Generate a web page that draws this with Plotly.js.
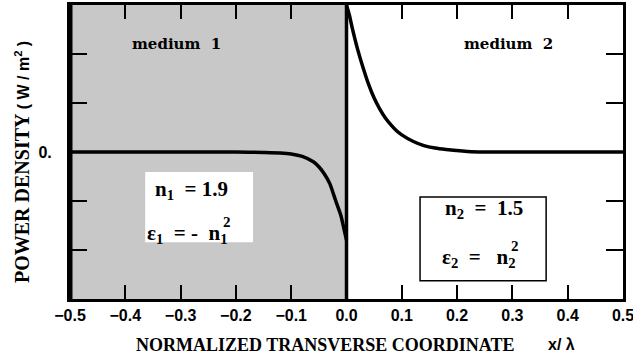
<!DOCTYPE html>
<html>
<head>
<meta charset="utf-8">
<script src="https://cdn.plot.ly/plotly-3.0.1.min.js"></script>
<style>html,body{margin:0;padding:0;background:#fff;}#chart{width:633px;height:360px;}</style>
</head>
<body>
<div id="chart"></div>
<script>
// Medium 1 (x < 0): power density
const x1 = [-0.5, -0.4, -0.3, -0.2, -0.15, -0.12, -0.1, -0.08, -0.06, -0.05, -0.04, -0.03, -0.02, -0.01, -0.005, 0];
const y1 = [0, 0, 0, 0, -0.01, -0.02, -0.04, -0.09, -0.2, -0.3, -0.45, -0.65, -0.98, -1.3, -1.55, -1.8];
// Medium 2 (x > 0)
const x2 = [0, 0.005, 0.01, 0.02, 0.03, 0.04, 0.05, 0.06, 0.07, 0.08, 0.09, 0.1, 0.12, 0.14, 0.16, 0.18, 0.2, 0.22, 0.25, 0.3, 0.4, 0.5];
const y2 = [3.0, 2.8, 2.55, 2.1, 1.72, 1.38, 1.1, 0.88, 0.7, 0.56, 0.44, 0.35, 0.22, 0.13, 0.08, 0.05, 0.03, 0.01, 0, 0, 0, 0];
// Tick labels
const xTicks = [-0.5, -0.4, -0.3, -0.2, -0.1, 0, 0.1, 0.2, 0.3, 0.4, 0.5];
const xTickText = ['\u22120.5', '\u22120.4', '\u22120.3', '\u22120.2', '\u22120.1', '0.0', '0.1', '0.2', '0.3', '0.4', '0.5'];
const yTicks = [-3, -2, -1, 0, 1, 2, 3];
const yTickText = ['', '', '', '0.', '', '', ''];

const serif = 'Liberation Serif, Times New Roman, serif';
const sans = 'Liberation Sans, Arial, sans-serif';
const slab = 'DejaVu Serif, serif';
const NB = '\u00a0';

const lineStyle = {color: '#000', width: 3.5, shape: 'spline', smoothing: 0.6};
const traces = [
  {x: x1, y: y1, mode: 'lines', line: lineStyle, hoverinfo: 'skip', showlegend: false},
  {x: x2, y: y2, mode: 'lines', line: lineStyle, hoverinfo: 'skip', showlegend: false}
];

const axisCommon = {
  showline: true, linecolor: '#000', linewidth: 3, mirror: 'ticks',
  ticks: 'inside', tickcolor: '#000', tickwidth: 2,
  showgrid: false, zeroline: false, fixedrange: true
};

const boxFont = {family: serif, size: 21, color: '#000', weight: 'bold'};
const supFont = {family: serif, size: 15, color: '#000', weight: 'bold'};

const layout = {
  width: 633, height: 360,
  margin: {l: 70, r: 10, t: 5, b: 61},
  paper_bgcolor: '#fff', plot_bgcolor: '#fff',
  showlegend: false,
  xaxis: Object.assign({}, axisCommon, {
    range: [-0.5, 0.5], tickvals: xTicks, ticktext: xTickText, ticklen: 14,
    ticklabeloverflow: 'allow',
    tickfont: {family: sans, size: 16, color: '#000', weight: 'bold'}
  }),
  yaxis: Object.assign({}, axisCommon, {
    range: [-3, 3], tickvals: yTicks, ticktext: yTickText, ticklen: 17,
    ticklabelstandoff: 12,
    tickfont: {family: sans, size: 16, color: '#000', weight: 'bold'}
  }),
  shapes: [
    {type: 'rect', xref: 'x', yref: 'y', x0: -0.5, x1: 0, y0: -3, y1: 3, fillcolor: '#c8c8c8', line: {width: 0}, layer: 'below'},
    {type: 'rect', xref: 'x', yref: 'y', x0: -0.364, x1: -0.169, y0: -1.84, y1: -0.41, fillcolor: '#fff', line: {width: 0}, layer: 'below'},
    {type: 'rect', xref: 'x', yref: 'y', x0: 0.133, x1: 0.361, y0: -2.63, y1: -0.92, fillcolor: '#fff', line: {color: '#000', width: 1.5}, layer: 'below'},
    {type: 'line', xref: 'x', yref: 'y', x0: 0, x1: 0, y0: -3, y1: 3, line: {color: '#000', width: 3.5}, layer: 'above'},
    {type: 'line', xref: 'paper', yref: 'paper', x0: 0, x1: 0, y0: 0, y1: 1, line: {color: '#000', width: 5}, layer: 'above'}
  ],
  annotations: [
    {xref: 'x', yref: 'y', x: -0.308, y: 2.2, xanchor: 'center', yanchor: 'middle', text: 'medium' + NB + NB + '1', showarrow: false, font: {family: slab, size: 15, color: '#000', weight: 'bold'}},
    {xref: 'x', yref: 'y', x: 0.293, y: 2.2, xanchor: 'center', yanchor: 'middle', text: 'medium' + NB + NB + '2', showarrow: false, font: {family: slab, size: 15, color: '#000', weight: 'bold'}},
    {xref: 'x', yref: 'y', x: -0.35, y: -0.78, xanchor: 'left', yanchor: 'middle', text: 'n<sub>1</sub>' + NB + ' = 1.9', showarrow: false, font: boxFont},
    {xref: 'x', yref: 'y', x: -0.2107, y: -1.67, xanchor: 'right', yanchor: 'middle', text: '\u03b5<sub>1</sub>' + NB + ' = - ' + NB + 'n<sub>1</sub>', showarrow: false, font: boxFont},
    {xref: 'x', yref: 'y', x: -0.217, y: -1.43, xanchor: 'center', yanchor: 'middle', text: '2', showarrow: false, font: supFont},
    {xref: 'x', yref: 'y', x: 0.174, y: -1.16, xanchor: 'left', yanchor: 'middle', text: 'n<sub>2</sub>' + NB + ' = ' + NB + '1.5', showarrow: false, font: boxFont},
    {xref: 'x', yref: 'y', x: 0.310, y: -2.16, xanchor: 'right', yanchor: 'middle', text: '\u03b5<sub>2</sub>' + NB + ' = ' + NB + NB + 'n<sub>2</sub>', showarrow: false, font: boxFont},
    {xref: 'x', yref: 'y', x: 0.304, y: -1.92, xanchor: 'center', yanchor: 'middle', text: '2', showarrow: false, font: supFont},
    {xref: 'paper', yref: 'paper', x: 0.461, y: -0.156, xanchor: 'center', yanchor: 'middle', text: 'NORMALIZED TRANSVERSE COORDINATE', showarrow: false, font: {family: serif, size: 18, color: '#000', weight: 'bold'}},
    {xref: 'paper', yref: 'paper', x: 0.888, y: -0.156, xanchor: 'center', yanchor: 'middle', text: 'x/ \u03bb', showarrow: false, font: {family: sans, size: 16, color: '#000', weight: 'bold'}},
    {xref: 'paper', yref: 'paper', x: -0.0868, y: 0.466, xanchor: 'center', yanchor: 'middle', textangle: -90, text: 'POWER DENSITY <span style="font-family:Liberation Sans;font-size:16px">( W / m<sup>2</sup> )</span>', showarrow: false, font: {family: serif, size: 20, color: '#000', weight: 'bold'}}
  ]
};

Plotly.newPlot('chart', traces, layout, {staticPlot: true, displayModeBar: false});
</script>
</body>
</html>
